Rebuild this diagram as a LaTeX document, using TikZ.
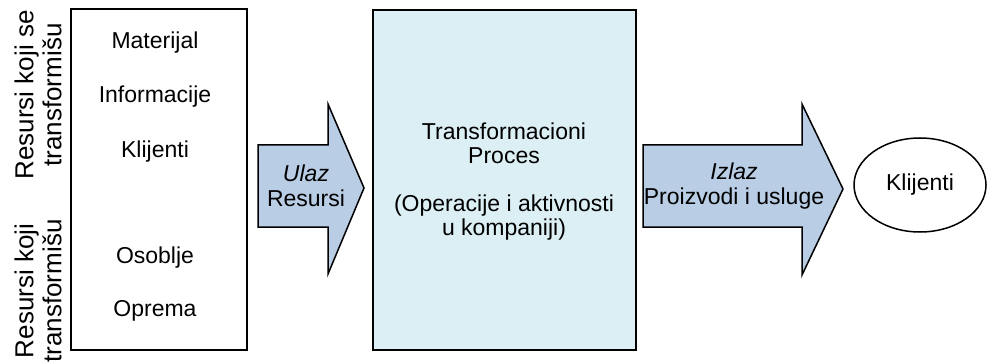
\documentclass[tikz,border=0pt]{standalone}
\usepackage{fontspec}
\setmainfont{Liberation Sans}
\usetikzlibrary{shapes.geometric}
\definecolor{procfill}{HTML}{DCEFF4}
\definecolor{arrowfill}{HTML}{B9CDE5}
\tikzset{
  txt/.style={font=\fontsize{11.5}{12.25}\selectfont, inner sep=0pt, align=center},
  sidelabel/.style={font=\fontsize{13}{14}\selectfont, inner sep=0pt, align=center, rotate=90},
  frame/.style={draw=black, line width=0.75pt},
  blockarrow/.style={draw=black, line width=0.75pt, fill=arrowfill, line join=miter}
}
\begin{document}
\begin{tikzpicture}[x=0.5pt, y=-0.5pt]
\useasboundingbox (0,0) rectangle (988,363);

% resource box
\draw[frame, fill=white] (71,9) rectangle (247,350);
\node[txt] (mat) at (155,43) {Materijal};
\node[txt] (inf) at (155,97) {Informacije};
\node[txt] (kli) at (155,152) {Klijenti};
\node[txt] (oso) at (155,258) {Osoblje};
\node[txt] (opr) at (155,311) {Oprema};

% side labels
\node[sidelabel] (transformed) at (38,95) {Resursi koji se\\transformišu};
\node[sidelabel] (transforming) at (38,291) {Resursi koji\\transformišu};

% input arrow
\draw[blockarrow] (258,145) -- (328,145) -- (328,104) -- (364,188)
  -- (328,274) -- (328,227) -- (258,227) -- cycle;
\node[txt] (input) at (306,186) {\textit{Ulaz}\\Resursi};

% transformation process
\draw[frame, fill=procfill] (373,10) rectangle (636,350);
\node[txt, font=\fontsize{11.5}{12}\selectfont] (proc) at (504,182)
  {Transformacioni\\Proces\\[12pt](Operacije i aktivnosti\\u kompaniji)};

% output arrow
\draw[blockarrow] (643,145) -- (802,145) -- (802,104) -- (843,189)
  -- (802,275) -- (802,227) -- (643,227) -- cycle;
\node[txt] (output) at (734,186) {\textit{Izlaz}\\Proizvodi i usluge};

% customers
\node[frame, ellipse, minimum width=66pt, minimum height=47pt, inner sep=0pt,
  font=\fontsize{11.5}{12}\selectfont] (cust) at (920,185) {Klijenti};
\end{tikzpicture}
\end{document}
